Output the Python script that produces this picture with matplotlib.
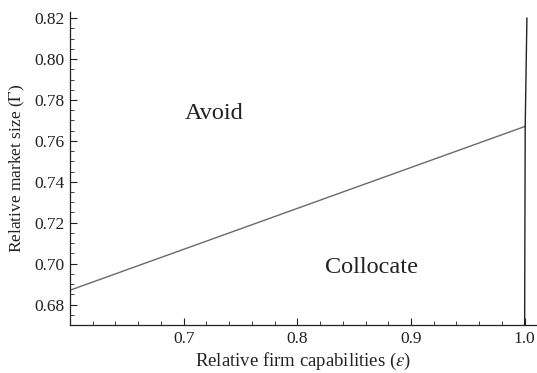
import matplotlib
matplotlib.use("Agg")
import matplotlib.pyplot as plt
from matplotlib.ticker import MultipleLocator, FormatStrFormatter

plt.rcParams['font.family'] = ['Liberation Serif', 'DejaVu Serif']
plt.rcParams['mathtext.fontset'] = 'stix'

# boundary line between regions
boundary_x = [0.6, 1.0]
boundary_y = [0.687, 0.767]
# near-vertical line at epsilon = 1
vert_x = [1.0, 1.0005, 1.002]
vert_y = [0.67, 0.767, 0.82]

region_labels = ["Avoid", "Collocate"]
region_x = [0.7267, 0.8656]
region_y = [0.7735, 0.6981]

fig = plt.figure(figsize=(5.37, 3.73), dpi=100)
ax = fig.add_axes([70/537, 1-325/373, 466/537, 313/373])

ax.plot(boundary_x, boundary_y, color='#6a6a6a', lw=1.0)
ax.plot(vert_x, vert_y, color='#222222', lw=1.0)

for t, x, y in zip(region_labels, region_x, region_y):
    ax.text(x, y, t, ha='center', va='center', fontsize=17.5, color='#222222')

ax.set_xlim(0.6, 1.01)
ax.set_ylim(0.67, 0.823)
ax.spines['top'].set_visible(False)
ax.spines['right'].set_visible(False)
for s in ['left', 'bottom']:
    ax.spines[s].set_linewidth(0.9)
    ax.spines[s].set_color('#222222')

ax.xaxis.set_major_locator(MultipleLocator(0.1))
ax.xaxis.set_minor_locator(MultipleLocator(0.02))
ax.yaxis.set_major_locator(MultipleLocator(0.02))
ax.yaxis.set_minor_locator(MultipleLocator(0.005))
ax.xaxis.set_major_formatter(FormatStrFormatter('%.1f'))
ax.yaxis.set_major_formatter(FormatStrFormatter('%.2f'))
ax.set_xticks([0.7, 0.8, 0.9, 1.0])
ax.tick_params(which='major', direction='in', length=5, width=0.8, labelsize=12.5, colors='#222222', pad=4)
ax.tick_params(which='minor', direction='in', length=3, width=0.6, colors='#222222')

ax.set_xlabel(r'Relative firm capabilities ($\varepsilon$)', fontsize=13.5, color='#222222', labelpad=3)
ax.set_ylabel(r'Relative market size ($\Gamma$)', fontsize=12.5, color='#222222', labelpad=5)

fig.savefig('out.png', dpi=100)
